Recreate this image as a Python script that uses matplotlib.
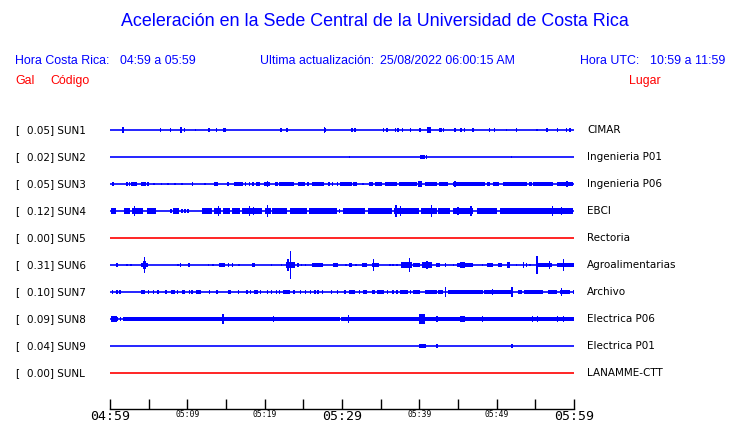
import matplotlib
matplotlib.use('Agg')
import matplotlib.pyplot as plt

# Acceleration traces, 04:59 - 05:59 (minutes after 04:59)
# each event: (start_min, end_min, half amplitude)
codes = ['SUN1', 'SUN2', 'SUN3', 'SUN4', 'SUN5', 'SUN6', 'SUN7', 'SUN8', 'SUN9', 'SUNL']
places = ['CIMAR', 'Ingenieria P01', 'Ingenieria P06', 'EBCI', 'Rectoria',
          'Agroalimentarias', 'Archivo', 'Electrica P06', 'Electrica P01', 'LANAMME-CTT']
gal = ['0.05', '0.02', '0.05', '0.12', '0.00', '0.31', '0.10', '0.09', '0.04', '0.00']
line_colors = ['blue', 'blue', 'blue', 'blue', 'red', 'blue', 'blue', 'blue', 'blue', 'red']

sun1 = [(1.7, 1.7, 2.5), (6.5, 6.5, 1.5), (7.8, 7.8, 1.5), (9.2, 9.2, 2.5), (9.6, 9.6, 1.5),
        (11.1, 11.1, 1), (12.8, 12.8, 1.5), (13.8, 13.8, 1.5), (14.6, 15.0, 1.5), (22.1, 22.1, 1.5),
        (22.8, 23.0, 1.5), (27.7, 27.7, 2.5), (27.9, 27.9, 1.5), (31.3, 31.3, 1.5), (31.7, 31.7, 1.5),
        (35.4, 35.4, 2), (35.8, 35.8, 1.5), (36.9, 36.9, 1.5), (37.1, 37.4, 1.5), (37.8, 37.8, 1.5),
        (38.9, 38.9, 1.5), (40.1, 40.1, 1.5), (41.0, 41.5, 2.5), (42.5, 42.9, 1.5), (43.1, 43.1, 1.5),
        (44.6, 44.6, 1.5), (45.4, 45.4, 1.5), (45.8, 45.8, 1.5), (46.8, 47.1, 1.5), (49.1, 49.1, 1.5),
        (49.7, 49.7, 1.5), (51.3, 51.3, 1), (52.6, 52.6, 1.5), (55.2, 55.2, 1), (56.5, 56.5, 1.5),
        (57.9, 57.9, 1.5), (59.0, 59.0, 1.5), (59.5, 59.5, 1.5)]
sun2 = [(31.0, 31.0, 1), (40.1, 40.7, 2), (40.9, 40.9, 1.5), (51.9, 51.9, 1)]
sun3 = [(0.4, 0.4, 1.5), (2.2, 2.2, 1.5), (2.5, 2.5, 1.5), (2.7, 3.5, 1.7), (4.0, 4.7, 1.7),
        (4.9, 4.9, 1.5), (5.7, 5.7, 1), (6.7, 6.7, 1), (7.5, 7.5, 1), (8.4, 8.4, 1), (9.3, 9.3, 1),
        (10.7, 10.7, 1.5), (12.3, 12.3, 1), (13.4, 14.0, 1.5), (15.1, 15.4, 1.7), (16.0, 17.2, 1.7),
        (17.5, 17.5, 1.5), (18.0, 18.0, 1.5), (18.5, 18.5, 1.5), (18.9, 19.4, 1.7), (19.9, 20.7, 1.7),
        (20.4, 20.4, 3), (21.3, 21.7, 1.5), (21.9, 23.8, 1.7), (24.3, 25.2, 1.7), (25.6, 25.6, 1.5),
        (26.1, 27.7, 1.7), (28.3, 28.3, 1.5), (28.8, 28.8, 1.5), (29.4, 29.4, 1.5), (29.7, 31.3, 1.7),
        (31.4, 31.9, 1.5), (32.7, 32.7, 1), (33.5, 34.0, 1.5), (34.3, 35.2, 1.7), (35.6, 37.1, 1.7),
        (37.4, 39.7, 1.7), (39.8, 40.3, 3), (40.7, 42.3, 1.7), (42.5, 43.7, 1.7), (44.4, 48.5, 1.7),
        (44.6, 44.6, 3), (48.7, 49.1, 1.5), (49.5, 50.3, 1.7), (50.8, 53.9, 1.7), (54.2, 54.6, 1.5),
        (54.7, 57.3, 1.7), (57.8, 59.9, 1.7), (59.1, 59.1, 3)]
sun4 = [(0.1, 0.8, 2.7), (1.8, 2.6, 2.3), (2.8, 4.3, 2.5), (3.2, 3.2, 4), (4.8, 5.9, 2.3),
        (7.8, 8.0, 2), (8.1, 8.9, 2.7), (9.3, 9.3, 2), (9.7, 9.7, 2), (10.1, 10.1, 2),
        (11.9, 13.2, 2.3), (13.4, 14.4, 2.7), (14.0, 14.0, 4), (14.6, 15.5, 2.3), (15.8, 16.8, 2.3),
        (17.1, 19.7, 2.5), (18.0, 18.0, 4), (18.6, 18.6, 3.5), (20.0, 20.8, 2.7), (20.4, 20.4, 5),
        (20.9, 22.9, 2.3), (23.3, 25.5, 2.3), (25.7, 29.4, 2.3), (29.7, 29.7, 2), (30.1, 33.0, 2.3),
        (31.0, 31.0, 3), (33.3, 36.5, 2.3), (34.8, 34.8, 3), (36.7, 40.0, 2.3), (37.0, 37.0, 5),
        (37.6, 37.6, 4), (40.2, 42.3, 2.3), (41.6, 41.6, 5), (42.4, 44.0, 2.3), (44.4, 46.9, 2.7),
        (45.0, 45.0, 3.5), (46.7, 46.7, 4.5), (47.5, 50.0, 2.3), (48.7, 48.7, 3), (50.4, 59.9, 2.3),
        (52.0, 52.0, 3), (54.3, 54.3, 3), (55.3, 55.3, 3), (57.2, 57.2, 4), (58.4, 58.4, 3.5),
        (59.5, 59.5, 3)]
sun5 = []
sun6 = [(0.9, 0.9, 1.5), (2.2, 2.2, 1), (2.7, 2.7, 1), (4.0, 4.9, 2), (4.3, 4.6, 3.5), (4.5, 4.5, 7),
        (8.8, 8.8, 1), (9.1, 9.1, 1.5), (10.2, 10.2, 1.5), (12.7, 12.7, 1), (13.3, 13.3, 1),
        (14.1, 14.9, 2), (15.3, 15.3, 1.5), (15.8, 15.8, 1.5), (16.7, 16.7, 1), (18.4, 18.8, 1.5),
        (20.9, 20.9, 1), (22.2, 22.2, 1), (22.8, 23.9, 2.5), (23.0, 23.0, 5), (23.3, 23.3, 12),
        (24.3, 24.3, 2), (24.8, 24.8, 1), (25.3, 25.3, 1), (26.1, 27.5, 1.5), (28.8, 29.5, 2),
        (30.5, 30.5, 1), (30.9, 31.3, 1.5), (31.8, 31.8, 1), (32.6, 33.2, 1.5), (33.9, 34.8, 2),
        (34.1, 34.1, 5), (36.2, 36.2, 0.8), (36.6, 36.6, 1), (37.1, 37.1, 1), (37.6, 39.1, 2.3),
        (38.1, 38.1, 3), (38.7, 38.7, 6), (39.2, 40.1, 2), (40.3, 41.6, 2.3), (41.0, 41.0, 3.5),
        (41.4, 41.4, 3), (42.2, 42.7, 1.5), (43.4, 43.4, 1.5), (44.4, 44.4, 1), (44.9, 46.9, 2),
        (45.3, 45.9, 2.7), (48.2, 48.2, 1), (48.7, 49.5, 2), (50.2, 50.7, 1.5), (51.3, 51.7, 2.3),
        (52.6, 52.6, 1), (53.5, 53.5, 2.5), (53.9, 53.9, 1.5), (54.3, 54.3, 1), (55.1, 57.2, 2),
        (55.2, 55.2, 8), (56.8, 56.8, 3.5), (57.8, 60.0, 2), (58.6, 58.6, 5)]
sun7 = [(0.3, 0.3, 1.7), (0.9, 0.9, 1.7), (1.3, 1.3, 1.7), (4.0, 4.5, 1.7), (5.0, 5.0, 1.7),
        (5.6, 5.6, 1.7), (6.2, 6.2, 1.7), (7.1, 7.4, 1.7), (7.9, 8.4, 1.7), (8.7, 8.7, 1.7),
        (9.3, 9.7, 1.7), (10.3, 10.3, 1.7), (10.6, 10.6, 1.7), (11.1, 11.8, 1.7), (12.9, 12.9, 1.5),
        (13.7, 14.0, 1.7), (15.3, 15.3, 1.5), (15.5, 15.5, 1.7), (16.6, 16.6, 1.7), (17.7, 17.7, 1.5),
        (18.2, 18.2, 1.7), (18.6, 19.1, 1.7), (19.5, 19.5, 1.5), (20.4, 20.4, 1.7), (20.9, 20.9, 1.7),
        (21.5, 21.5, 1.7), (21.9, 21.9, 1.7), (22.4, 23.3, 1.7), (23.8, 23.8, 1.7), (24.6, 24.6, 1.7),
        (25.3, 25.3, 1.7), (25.9, 25.9, 1.7), (26.5, 26.5, 1.7), (26.9, 26.9, 1.7), (27.5, 27.5, 1.7),
        (28.6, 28.6, 1.7), (29.4, 29.4, 1.7), (30.4, 30.4, 1.7), (30.9, 31.7, 1.7), (32.3, 32.3, 1.5),
        (32.7, 33.2, 1.7), (33.9, 34.3, 1.7), (34.5, 35.4, 1.7), (35.9, 35.9, 1.5), (36.5, 36.7, 1.7),
        (37.1, 37.1, 1.5), (37.5, 38.5, 1.7), (38.9, 38.9, 1.5), (39.2, 40.1, 1.7), (40.7, 42.3, 1.7),
        (42.4, 43.1, 1.7), (43.4, 43.4, 4), (43.7, 48.2, 1.7), (48.4, 52.1, 1.7), (49.5, 49.5, 3),
        (52.0, 52.0, 4), (52.8, 53.3, 1.7), (53.5, 56.0, 1.7), (56.6, 57.8, 1.7), (58.2, 59.5, 1.7),
        (58.4, 58.4, 3.5), (59.9, 59.9, 1.7)]
sun8 = [(0.1, 0.9, 2.3), (1.0, 1.0, 2), (1.4, 1.4, 2), (1.7, 29.7, 1.8), (29.9, 60.0, 1.8),
        (14.6, 14.6, 4), (21.1, 21.1, 3), (30.8, 30.8, 3.5), (40.0, 40.7, 4.5), (42.3, 42.3, 3),
        (45.3, 45.9, 2.5), (48.2, 48.2, 3), (54.6, 54.6, 3), (55.3, 55.3, 3), (57.9, 57.9, 3),
        (58.6, 58.6, 3)]
sun9 = [(40.0, 40.9, 2), (42.3, 42.3, 1.5), (52.0, 52.0, 1.5)]
sunl = []
traces = [sun1, sun2, sun3, sun4, sun5, sun6, sun7, sun8, sun9, sunl]

tick_minutes = list(range(0, 61, 5))
tick_labels = ['04:59', '', '05:09', '', '05:19', '', '05:29', '', '05:39', '', '05:49', '', '05:59']
big_ticks = ['04:59', '05:29', '05:59']

W, H = 740, 423


def fx(x):
    return x / W


def fy(y):
    return 1 - y / H


fig = plt.figure(figsize=(W / 100, H / 100), dpi=100)
ax = fig.add_axes([fx(110), fy(409), 464 / W, (409 - 116) / H])
row_px = 27.0 / 1.15   # amplitudes are ~pixels, slight boost

for i, events in enumerate(traces):
    c = line_colors[i]
    ax.hlines(i, 0, 60, color=c, lw=1.2)
    lefts, widths, bottoms, heights = [], [], [], []
    for t0, t1, a in events:
        w = max(t1 - t0, 0.17)
        lefts.append(t0 if t1 > t0 else t0 - w / 2)
        widths.append(w)
        bottoms.append(i - a / row_px)
        heights.append(2 * a / row_px)
    if events:
        ax.bar(lefts, heights, width=widths, bottom=bottoms, align='edge',
               color=c, linewidth=0, antialiased=False)

ax.set_xlim(0, 60)
ax.set_ylim(10.333, -0.5185)
ax.set_yticks([])
for s in ['top', 'left', 'right']:
    ax.spines[s].set_visible(False)
ax.spines['bottom'].set_linewidth(1.0)
ax.set_xticks(tick_minutes)
ax.set_xticklabels(tick_labels, family='DejaVu Sans Mono')
ax.tick_params(axis='x', direction='in', length=7, width=1.0, pad=0.5)
for lab in ax.get_xticklabels():
    lab.set_fontsize(9.5 if lab.get_text() in big_ticks else 5.8)

# station labels
for i in range(len(codes)):
    y = fy(130 + 27 * i)
    fig.text(fx(15), y, '[', fontsize=7.5, va='center', family='DejaVu Sans')
    fig.text(fx(27), y, '%s] %s' % (gal[i], codes[i]), fontsize=7.5, va='center',
             family='DejaVu Sans')
    fig.text(fx(587), y, places[i], fontsize=7.5, va='center', family='DejaVu Sans')

# header
hf = 'Liberation Sans'
fs = 8.9
fig.text(fx(375), fy(22), 'Aceleración en la Sede Central de la Universidad de Costa Rica',
         fontsize=12.9, color='blue', ha='center', va='center', family=hf)
fig.text(fx(15), fy(61), 'Hora Costa Rica:', fontsize=fs, color='blue', va='center', family=hf)
fig.text(fx(120), fy(61), '04:59 a 05:59', fontsize=fs, color='blue', va='center', family=hf)
fig.text(fx(260), fy(61), 'Ultima actualización:', fontsize=fs, color='blue', va='center', family=hf)
fig.text(fx(380), fy(61), '25/08/2022 06:00:15 AM', fontsize=fs, color='blue', va='center', family=hf)
fig.text(fx(580), fy(61), 'Hora UTC:', fontsize=fs, color='blue', va='center', family=hf)
fig.text(fx(650), fy(61), '10:59 a 11:59', fontsize=fs, color='blue', va='center', family=hf)
fig.text(fx(15), fy(81), 'Gal', fontsize=fs, color='red', va='center', family=hf)
fig.text(fx(50), fy(81), 'Código', fontsize=fs, color='red', va='center', family=hf)
fig.text(fx(629), fy(81), 'Lugar', fontsize=fs, color='red', va='center', family=hf)

fig.savefig('out.png', dpi=100)
